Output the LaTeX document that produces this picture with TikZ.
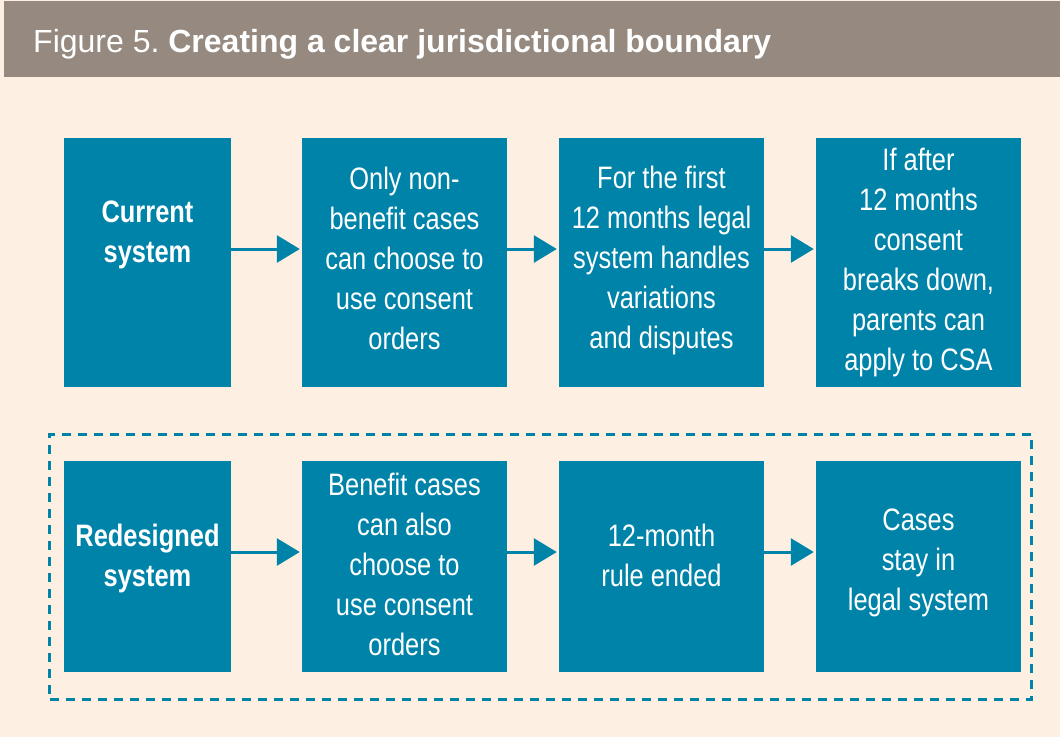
\documentclass[tikz,border=0pt]{standalone}
\usepackage{fontspec}
\setmainfont{Liberation Sans}
\newfontfamily\condfont{Liberation Sans}[FakeStretch=0.82]
\usetikzlibrary{arrows.meta}
\definecolor{cream}{RGB}{253,240,227}
\definecolor{headbg}{RGB}{150,138,128}
\definecolor{teal}{RGB}{0,131,168}
\tikzset{
  box/.style={fill=teal, draw=none, inner sep=0pt},
  txt/.style={text=white, align=center, inner sep=0pt,
    font=\condfont\fontsize{31}{40}\selectfont},
  btxt/.style={txt, font=\condfont\bfseries\fontsize{31}{40}\selectfont},
  arr/.style={draw=teal, line width=3pt, -{Triangle[length=23pt,width=27pt]}},
  frame/.style={draw=teal, line width=3pt, dash pattern=on 9pt off 7pt},
}
\begin{document}
\begin{tikzpicture}[x=1pt,y=-1pt]
\useasboundingbox (0,0) rectangle (1060,737);
\fill[cream] (0,0) rectangle (1060,737);
\fill[headbg] (4,1) rectangle (1060,77);
\node[anchor=base west, text=white, inner sep=0pt, font=\fontsize{32}{40}\selectfont] (title) at (33,52) {Figure 5.\ \textbf{Creating a clear jurisdictional boundary}};
% row 1
\node[box, minimum width=167pt, minimum height=249pt] (c1) at (147.5,262.5) {};
\node[box, minimum width=205pt, minimum height=249pt] (c2) at (404.5,262.5) {};
\node[box, minimum width=205pt, minimum height=249pt] (c3) at (661.5,262.5) {};
\node[box, minimum width=205pt, minimum height=249pt] (c4) at (918.5,262.5) {};
\node[btxt] (tc1) at (147.5,235) {Current\\system};
\node[txt] (tc2) at (404.5,258) {Only non-\\benefit cases\\can choose to\\use consent\\orders};
\node[txt] (tc3) at (661.5,260) {For the first\\12 months legal\\system handles\\variations\\and disputes};
\node[txt] (tc4) at (918.5,262.5) {If after\\12 months\\consent\\breaks down,\\parents can\\apply to CSA};
% row 2
\node[frame, minimum width=982pt, minimum height=265pt, inner sep=0pt] (fr) at (540.5,566.5) {};
\node[box, minimum width=167pt, minimum height=211pt] (r1) at (147.5,566.5) {};
\node[box, minimum width=205pt, minimum height=211pt] (r2) at (404.5,566.5) {};
\node[box, minimum width=205pt, minimum height=211pt] (r3) at (661.5,566.5) {};
\node[box, minimum width=205pt, minimum height=211pt] (r4) at (918.5,566.5) {};
\node[btxt] (tr1) at (147.5,558) {Redesigned\\system};
\node[txt] (tr2) at (404.5,564.5) {Benefit cases\\can also\\choose to\\use consent\\orders};
\node[txt] (tr3) at (661.5,555.5) {12-month\\rule ended};
\node[txt] (tr4) at (918.5,562.5) {Cases\\stay in\\legal system};
% arrows
\foreach \a/\b in {c1/c2,c2/c3,c3/c4}
  \draw[arr] ([yshift=13.5pt]\a.east) -- ([yshift=13.5pt,xshift=-2pt]\b.west);
\foreach \a/\b in {r1/r2,r2/r3,r3/r4}
  \draw[arr] ([yshift=14.5pt]\a.east) -- ([yshift=14.5pt,xshift=-2pt]\b.west);
\end{tikzpicture}
\end{document}
